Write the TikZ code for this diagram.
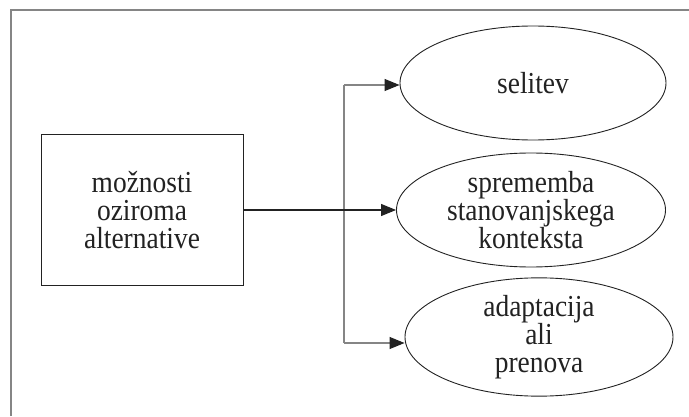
\documentclass[tikz,border=0pt]{standalone}
\usepackage{fontspec}
\setmainfont{Liberation Serif}[FakeStretch=0.9]
\usetikzlibrary{shapes.geometric, arrows.meta}
\definecolor{darkline}{HTML}{222222}
\definecolor{frameline}{HTML}{858585}

\begin{document}
\begin{tikzpicture}[x=1pt, y=1pt,
    every node/.style={font=\fontsize{30.5}{28}\selectfont, align=center, text=darkline},
    optionbox/.style={draw=darkline, line width=0.9pt, minimum width=202pt, minimum height=151pt, inner sep=0pt},
    choice/.style={draw=darkline, ellipse, line width=0.9pt, minimum width=266pt, minimum height=114pt, inner sep=0pt},
    branch/.style={line width=1.1pt},
    tip/.style={-{Triangle[length=15pt, width=12pt, color=darkline]}}]
                \useasboundingbox (0,0) rectangle (689,416);
                \draw[frameline, line width=1.4pt] (11,0) -- (11,406) -- (689,406);

                \node[optionbox] (opt) at (142,206) {možnosti\\oziroma\\alternative};

                \node[choice] (sel) at (533,333) {selitev};
                \node[choice, minimum width=269pt] (ctx) at (531,206) {sprememba\\stanovanjskega\\konteksta};
                \node[choice, minimum width=268pt, minimum height=113pt] (ren) at (539,79) {adaptacija\\ali\\prenova};

                \coordinate (forktop) at (344,331);
                \coordinate (forkbot) at (344,73);

                \draw[branch, frameline] (forktop) -- (forkbot);
                \draw[branch, frameline, tip] (forktop) -- (forktop -| sel.west);
                \draw[branch, frameline, tip] (forkbot) -- (forkbot -| ren.west);
                \draw[branch, darkline, tip] (opt.east) -- (ctx.west);
            \end{tikzpicture}
\end{document}
